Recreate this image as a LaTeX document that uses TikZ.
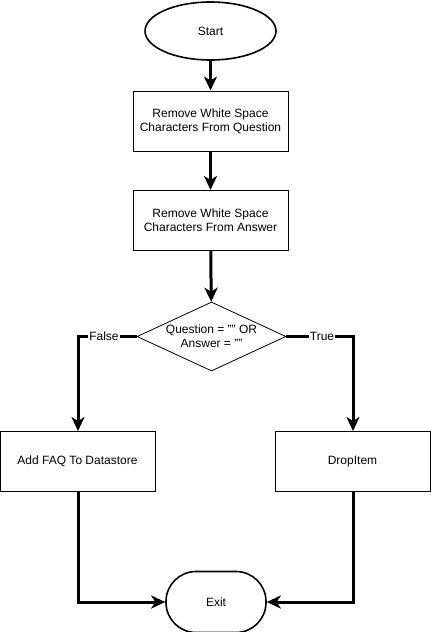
\documentclass[tikz,border=0pt]{standalone}
\usepackage{fontspec}
\setmainfont{Liberation Sans}
\usetikzlibrary{shapes.geometric,arrows.meta,positioning}
\begin{document}
\begin{tikzpicture}[x=1pt,y=-1pt,
  every node/.style={font=\fontsize{12}{14}\selectfont, align=center, inner sep=0pt},
  procbox/.style={draw, line width=1pt, minimum width=155pt, minimum height=60pt},
  conn/.style={line width=3pt, -{Stealth[length=14pt,width=13pt,inset=4pt]}},
  plainconn/.style={line width=3pt}
]
\useasboundingbox[fill=white] (0,0) rectangle (431,632);
\node[draw, ellipse, line width=1.6pt, minimum width=131pt, minimum height=58pt] (start) at (210.5,31) {Start};
\node[procbox] (q) at (210.5,121) {Remove White Space\\Characters From Question};
\node[procbox] (a) at (210.5,220.5) {Remove White Space\\Characters From Answer};
\node[draw, diamond, aspect=2.16, line width=0.8pt, minimum width=149pt, minimum height=69pt, inner sep=0pt] (d) at (211.5,336.5) {Question = "" OR\\Answer = ""};
\node[procbox] (add) at (77.5,461.5) {Add FAQ To Datastore};
\node[procbox] (drop) at (352.5,461.5) {DropItem};
\node[draw, rounded corners=30pt, line width=1.6pt, minimum width=100pt, minimum height=61pt] (exit) at (216,602) {Exit};
\coordinate (fl) at (78,336.5);
\coordinate (tr) at (353,336.5);
\coordinate (bl) at (78,602);
\coordinate (br) at (353,602);
\draw[conn] (start) -- (q);
\draw[conn] (q) -- (a);
\draw[conn] (a) -- (d);
\draw[conn] (d.west) -- (fl) -- (add.north -| fl);
\draw[conn] (d.east) -- (tr) -- (drop.north -| tr);
\draw[conn] (add.south -| bl) -- (bl) -- (exit.west);
\draw[conn] (drop.south -| br) -- (br) -- (exit.east);
\node[fill=white, inner xsep=1pt, inner ysep=1pt] (fls) at (104,336.5) {False};
\node[fill=white, inner xsep=1pt, inner ysep=1pt] (trs) at (322,336.5) {True};
\end{tikzpicture}
\end{document}
